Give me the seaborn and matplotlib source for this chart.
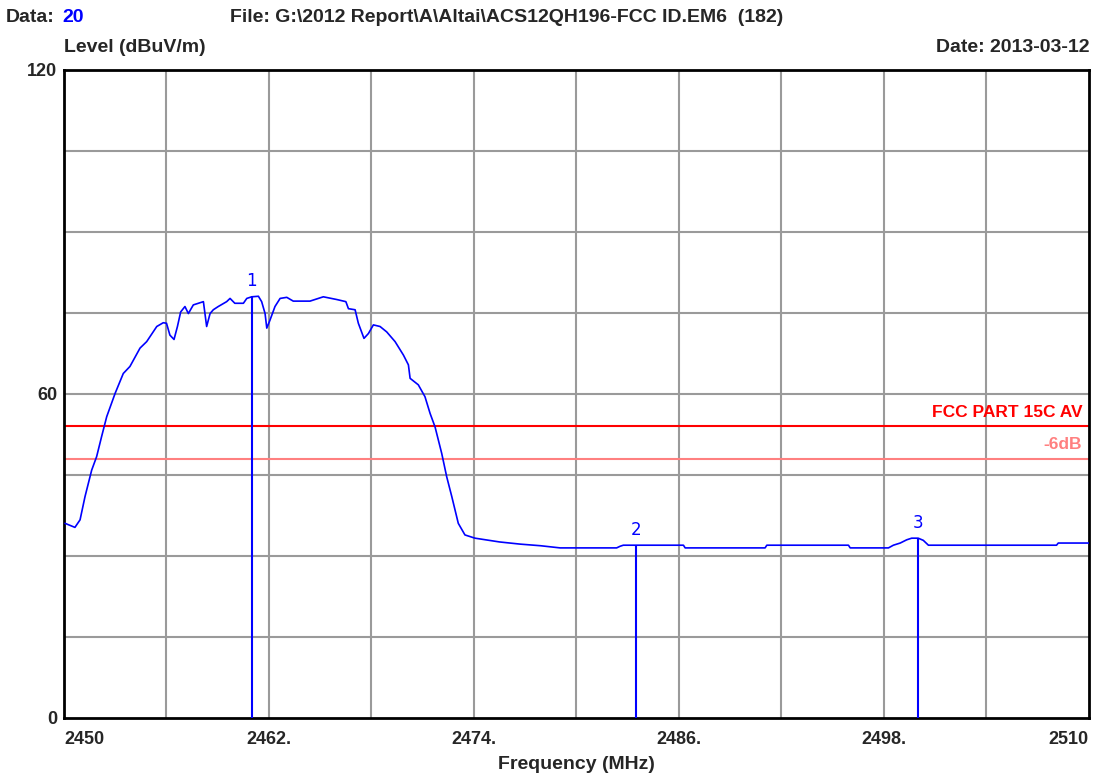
import numpy as np
import pandas as pd
import matplotlib
matplotlib.use('Agg')
import matplotlib.pyplot as plt
import seaborn as sns

# trace
freq = [2450.06, 2450.64, 2450.94, 2451.23, 2451.62, 2451.91, 2452.2, 2452.5, 2452.99, 2453.47,
        2453.86, 2454.45, 2454.84, 2455.43, 2455.81, 2456.0, 2456.2, 2456.44, 2456.64, 2456.83,
        2457.08, 2457.28, 2457.57, 2458.16, 2458.35, 2458.55, 2458.74, 2459.03, 2459.52, 2459.72,
        2460.0, 2460.5, 2460.7, 2460.99, 2461.38, 2461.57, 2461.77, 2461.87, 2462.06, 2462.35,
        2462.65, 2463.04, 2463.42, 2464.4, 2465.18, 2465.96, 2466.5, 2466.65, 2467.04, 2467.23,
        2467.56, 2467.82, 2468.11, 2468.5, 2468.89, 2469.38, 2469.87, 2470.16, 2470.26, 2470.74,
        2471.13, 2471.43, 2471.72, 2472.11, 2472.4, 2472.7, 2473.08, 2473.47, 2474.06, 2475.5,
        2476.7, 2477.9, 2479.04, 2482.35, 2482.55, 2482.74, 2486.26, 2486.36, 2491.04, 2491.14,
        2495.92, 2496.02, 2498.26, 2498.55, 2498.95, 2499.33, 2499.62, 2500.0, 2500.3, 2500.6,
        2508.1, 2508.2, 2510.0]
level = [36.05, 35.3, 36.7, 41.0, 45.9, 48.4, 52.1, 55.8, 60.1, 63.8,
         65.1, 68.5, 69.7, 72.5, 73.2, 73.1, 70.9, 70.1, 72.5, 75.2,
         76.2, 74.9, 76.5, 77.1, 72.5, 74.9, 75.6, 76.2, 77.1, 77.7,
         76.8, 76.8, 77.7, 78.0, 78.1, 77.1, 74.9, 72.2, 73.7, 76.2,
         77.7, 77.9, 77.2, 77.2, 78.0, 77.5, 77.1, 75.8, 75.6, 73.1,
         70.3, 71.2, 72.8, 72.5, 71.5, 69.7, 67.2, 65.4, 62.9, 61.7,
         59.5, 56.4, 53.9, 49.0, 44.7, 41.0, 36.05, 33.9, 33.3, 32.6,
         32.2, 31.9, 31.5, 31.5, 31.8, 32.0, 32.0, 31.5, 31.5, 32.0,
         32.0, 31.5, 31.5, 32.0, 32.4, 33.0, 33.3, 33.3, 32.9, 32.0,
         32.0, 32.4, 32.4]

marker_freq = [2461.0, 2483.5, 2500.0]
marker_level = [78.1, 32.0, 33.3]
marker_names = ['1', '2', '3']

limit_level = 54
limit_label = 'FCC PART 15C AV'
margin_label = '-6dB'

x_ticks = [2450, 2462, 2474, 2486, 2498, 2510]
x_tick_labels = ['2450', '2462.', '2474.', '2486.', '2498.', '2510']
y_ticks = [0, 60, 120]

df = pd.DataFrame({'Frequency': freq, 'Level': level})

sns.set_style('white')
plt.rcParams['font.family'] = ['Liberation Sans', 'DejaVu Sans']

fig = plt.figure(figsize=(11.11, 7.78), dpi=100)
ax = fig.add_axes([64 / 1111, 1 - 718 / 778, 1025 / 1111, 648 / 778])

# grid every 6 MHz / 15 dB
for g in np.arange(2456, 2510, 6):
    ax.axvline(g, color='#9a9a9a', lw=1.5, zorder=0)
for g in np.arange(15, 120, 15):
    ax.axhline(g, color='#9a9a9a', lw=1.5, zorder=0)

ax.axhline(limit_level, color='#ff0000', lw=1.5, zorder=1)
ax.axhline(limit_level - 6, color='#ff8080', lw=1.5, zorder=1)

sns.lineplot(data=df, x='Frequency', y='Level', ax=ax, color='#0000ff', lw=1.2, zorder=3)

for f, l, n in zip(marker_freq, marker_level, marker_names):
    ax.vlines(f, 0, l, color='#0000ff', lw=1.5, zorder=3)
    ax.text(f, l + 1.2, n, color='#0000ff', ha='center', va='bottom',
            fontsize=12, family=['DejaVu Sans'])

ax.text(2509.6, limit_level + 1.2, limit_label, color='#ff0000', ha='right', va='bottom',
        fontsize=12.5, fontweight='bold')
ax.text(2509.6, limit_level - 6 + 1.2, margin_label, color='#ff8080', ha='right', va='bottom',
        fontsize=12.5, fontweight='bold')

ax.set_xlim(2450, 2510)
ax.set_ylim(0, 120)
ax.set_xticks(x_ticks)
ax.set_xticklabels(x_tick_labels, fontsize=13, fontweight='bold')
ax.set_yticks(y_ticks)
ax.set_yticklabels([str(v) for v in y_ticks], fontsize=13, fontweight='bold')
labels = ax.get_xticklabels()
labels[0].set_ha('left')
labels[-1].set_ha('right')
ax.tick_params(axis='x', length=0, pad=9)
ax.tick_params(axis='y', length=0, pad=5)
ax.set_xlabel('Frequency (MHz)', fontsize=14, fontweight='bold', labelpad=6)
ax.set_ylabel('')
for s in ax.spines.values():
    s.set_color('black')
    s.set_linewidth(2)

fig.text(6 / 1111, 1 - 17 / 778, 'Data:', fontsize=14, fontweight='bold', va='center')
fig.text(62 / 1111, 1 - 17 / 778, '20', fontsize=14, fontweight='bold', va='center', color='#0000ff')
fig.text(230 / 1111, 1 - 17 / 778, 'File: G:\\2012 Report\\A\\Altai\\ACS12QH196-FCC ID.EM6  (182)',
         fontsize=14, fontweight='bold', va='center')
fig.text(64 / 1111, 1 - 48 / 778, 'Level (dBuV/m)', fontsize=14, fontweight='bold', va='center')
fig.text(1089 / 1111, 1 - 48 / 778, 'Date: 2013-03-12', fontsize=14, fontweight='bold',
         va='center', ha='right')

fig.savefig('out.png', dpi=100)
